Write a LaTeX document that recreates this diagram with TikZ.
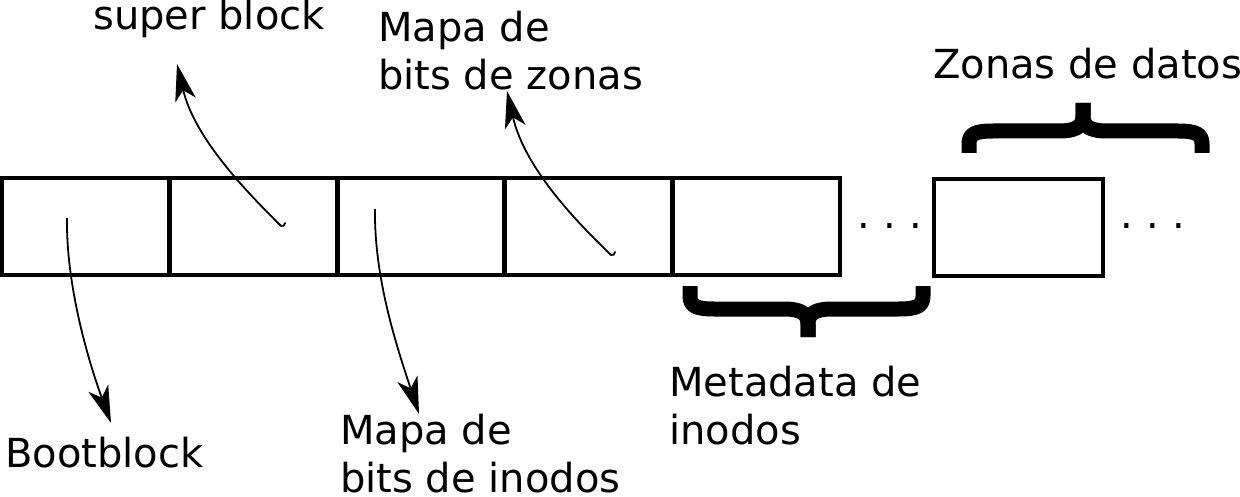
\documentclass[tikz,border=0pt]{standalone}
\usepackage{fontspec}
\setmainfont{DejaVu Sans}
\usetikzlibrary{arrows.meta}
\tikzset{
  cell/.style={draw=black, line width=4.2pt, minimum width=168pt, minimum height=97pt, inner sep=0pt, outer sep=0pt},
  lbl/.style={anchor=base west, inner sep=0pt, align=left, font=\fontsize{40}{48}\selectfont},
  dots/.style={inner sep=0pt, font=\fontsize{40}{48}\selectfont},
  ptr/.style={line width=1.8pt, -{Stealth[length=37pt, width=21pt, inset=10pt]}},
  brace/.style={line width=15pt, line cap=butt, line join=round}
}
\begin{document}
\begin{tikzpicture}[x=1pt, y=-1pt]
\useasboundingbox (0,0) rectangle (1240,497);
% blocks
\node[cell] (c1) at (86,226.5) {};
\node[cell] (c2) at (253.5,226.5) {};
\node[cell] (c3) at (421,226.5) {};
\node[cell] (c4) at (588.5,226.5) {};
\node[cell] (c5) at (756,226.5) {};
\node[cell, minimum width=169pt] (c6) at (1018.5,227.5) {};
% dots
\node[dots] (d1) at (890,226) {.\hspace{13.3pt}.\hspace{13.3pt}.};
\node[dots] (d2) at (1153,226) {.\hspace{13.3pt}.\hspace{13.3pt}.};
% labels (base = baseline of last line)
\node[lbl] (sb) at (93,30) {super block};
\node[lbl] (mz) at (378,90) {Mapa de\\bits de zonas};
\node[lbl] (zd) at (933,79) {Zonas de datos};
\node[lbl] (bb) at (5,467) {Bootblock};
\node[lbl] (mi) at (340,492) {Mapa de\\bits de inodos};
\node[lbl] (md) at (669,444) {Metadata de\\inodos};
% arrow anchors
\coordinate (s1) at (67,218);
\coordinate (t1) at (111,423);
\coordinate (s2) at (281,226);
\coordinate (t2) at (177,64);
\coordinate (s3) at (375,209);
\coordinate (t3) at (419,414);
\coordinate (s4) at (611,255);
\coordinate (t4) at (507,91);
\draw[ptr] (s1) .. controls (66,285) and (88,360) .. (t1);
\draw[ptr] (s2) .. controls (250,195) and (195,140) .. (t2);
\draw[line width=1.8pt, line cap=round] (s2) .. controls (283,227) and (285,225) .. (285,223);
\draw[ptr] (s3) .. controls (374,280) and (398,350) .. (t3);
\draw[ptr] (s4) .. controls (580,225) and (525,170) .. (t4);
\draw[line width=1.8pt, line cap=round] (s4) .. controls (613,256) and (615,254) .. (615,252);
% braces
\draw[brace] (690,286) -- (690,296) .. controls (690,306) and (696,309) .. (714,309) -- (784,309) .. controls (800,309) and (808,313) .. (808,324) -- (808,337);
\draw[brace] (923,286) -- (923,296) .. controls (923,306) and (917,309) .. (899,309) -- (832,309) .. controls (816,309) and (808,313) .. (808,324) -- (808,337);
\draw[brace] (969,153) -- (969,144) .. controls (969,134) and (975,131) .. (993,131) -- (1059,131) .. controls (1075,131) and (1083,127) .. (1083,116) -- (1083,103);
\draw[brace] (1202,153) -- (1202,144) .. controls (1202,134) and (1196,131) .. (1178,131) -- (1107,131) .. controls (1091,131) and (1083,127) .. (1083,116) -- (1083,103);
\end{tikzpicture}
\end{document}
